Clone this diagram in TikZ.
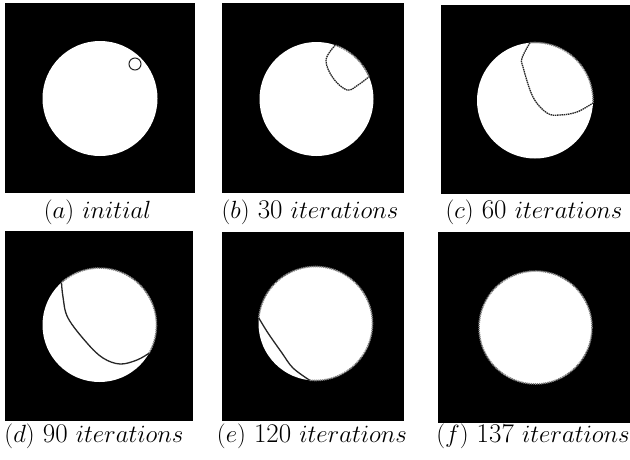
\documentclass[tikz,border=0pt]{standalone}
\usetikzlibrary{calc}
\begin{document}
\begin{tikzpicture}[x=1pt,y=-1pt,
  panel/.style={fill=black},
  disc/.style={fill=white},
  rim/.style={draw=black!50,line width=1.6pt,dash pattern=on 1.2pt off 0.8pt},
  front/.style={draw=black!85,line width=1.3pt},
  captext/.style={font=\fontsize{27}{32}\selectfont,anchor=base,inner sep=0pt}]
\useasboundingbox (0,0) rectangle (630,459);
% panels
\fill[panel] (5,3) rectangle (195,193);
\fill[panel] (222,3) rectangle (404,193);
\fill[panel] (441,5) rectangle (630,194);
\fill[panel] (5,231) rectangle (193,421);
\fill[panel] (222,232) rectangle (404,421);
\fill[panel] (438,232) rectangle (630,423);
% discs
\coordinate (ca) at (100,98.5);
\coordinate (cb) at (316.5,99);
\coordinate (cc) at (535,100.5);
\coordinate (cd) at (99.5,325);
\coordinate (ce) at (315.5,323.5);
\coordinate (cf) at (535.5,327.5);
\fill[disc] (ca) circle (57.5);
\fill[disc] (cb) circle (57);
\fill[disc] (cc) circle (58);
\fill[disc] (cd) circle (57);
\fill[disc] (ce) circle (57);
\fill[disc] (cf) circle (56.5);
% (a) initial contour
\draw[front,line width=1pt] (135,64) circle (6);
% (b)
\draw[front,dash pattern=on 1.5pt off 0.7pt] plot[smooth,tension=0.6] coordinates {($(cb)+(-70.8:57)$) (326,60) (333,78) (347,90) (358,85) ($(cb)+(-23:57)$)};
\draw[rim] ($(cb)+(-23:57)$) arc[start angle=-23,end angle=-70.8,radius=57];
% (c)
\draw[front,dash pattern=on 1.5pt off 0.7pt] plot[smooth,tension=0.6] coordinates {($(cc)+(-95:58)$) (522,58) (523,67) (533,97) (547,113) (560,115) (577,112) ($(cc)+(2.5:58)$)};
\draw[rim] ($(cc)+(2.5:58)$) arc[start angle=2.5,end angle=-95,radius=58];
% (d)
\draw[front] plot[smooth,tension=0.6] coordinates {($(cd)+(-131.8:57)$) (63,297) (68,318) (87,343) (103,358) (120,364) (137,360) ($(cd)+(29.6:57)$)};
\draw[rim] ($(cd)+(29.6:57)$) arc[start angle=29.6,end angle=-131.8,radius=57];
% (e)
\draw[front] plot[smooth,tension=0.6] coordinates {($(ce)+(-174.4:57)$) (268,333) (282,353) (293,368) ($(ce)+(95.9:57)$)};
\draw[rim] ($(ce)+(95.9:57)$) arc[start angle=95.9,end angle=-174.4,radius=57];
% (f)
\draw[rim] (cf) circle (56.5);
% captions
\node[captext] (ta) at (97.5,218) {$(a)$ $initial$};
\node[captext] (tb) at (310,218) {$(b)$ 30 $iterations$};
\node[captext] (tc) at (534,218) {$(c)$ 60 $iterations$};
\node[captext] (td) at (94,442) {$(d)$ 90 $iterations$};
\node[captext] (te) at (312,442) {$(e)$ 120 $iterations$};
\node[captext] (tf) at (533,442) {$(f)$ 137 $iterations$};
\end{tikzpicture}
\end{document}
